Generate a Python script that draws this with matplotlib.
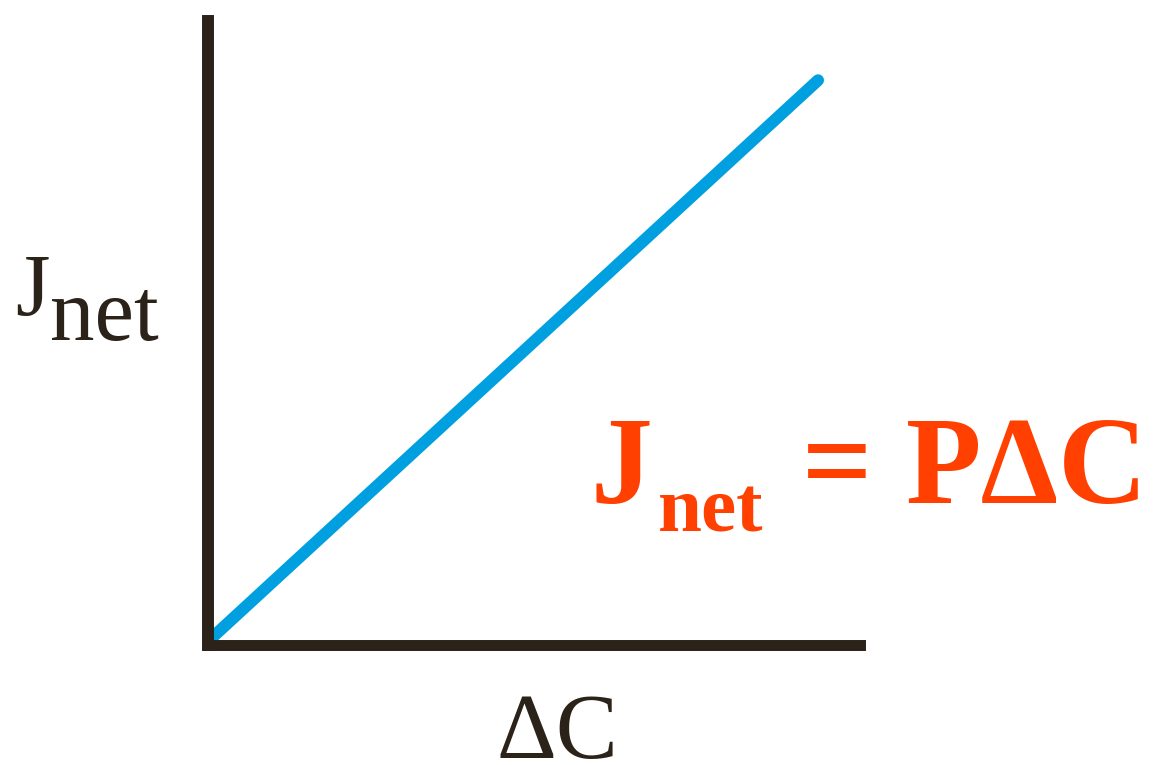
import matplotlib
matplotlib.use("Agg")
import matplotlib.pyplot as plt

# chart data: flux rises linearly with the concentration gradient
delta_c = [0.008, 0.935]
j_net = [0.012, 0.905]

W, H = 1157, 765
dark = '#2b2219'
blue = '#00a0e0'
red = '#ff4000'
serif = ['Liberation Serif', 'DejaVu Serif']


def fx(px):
    return px / W


def fy(py):
    return 1 - py / H


fig = plt.figure(figsize=(W / 100, H / 100), dpi=100)
ax = fig.add_axes([fx(207.5), fy(644.5), fx(860.5) - fx(207.5), fy(21) - fy(644.5)])

ax.plot(delta_c, j_net, color=blue, lw=8.6, solid_capstyle='round')
ax.set_xlim(0, 1)
ax.set_ylim(0, 1)

for side in ['top', 'right']:
    ax.spines[side].set_visible(False)
ax.spines['left'].set_linewidth(8.6)
ax.spines['bottom'].set_linewidth(7.9)
for side in ['left', 'bottom']:
    ax.spines[side].set_color(dark)
    ax.spines[side].set_capstyle('projecting')
ax.set_xticks([])
ax.set_yticks([])

# axis labels
fig.text(fx(15), fy(315), 'J', family=serif, fontsize=64, color=dark, ha='left', va='baseline')
fig.text(fx(50), fy(340), 'net', family=serif, fontsize=64, color=dark, ha='left', va='baseline')
fig.text(fx(557), fy(758), '\u0394C', family=serif, fontsize=67, color=dark, ha='center', va='baseline')

# equation
eq = dict(family=serif, color=red, fontweight='bold', va='baseline')
fig.text(fx(591), fy(503), 'J', ha='left', fontsize=89, **eq)
fig.text(fx(658), fy(532), 'net', ha='left', fontsize=57, **eq)
fig.text(fx(837.5), fy(503), '=', ha='center', fontsize=89, **eq)
fig.text(fx(906), fy(503), 'P\u0394C', ha='left', fontsize=89, **eq)

fig.savefig('out.png', dpi=100)
